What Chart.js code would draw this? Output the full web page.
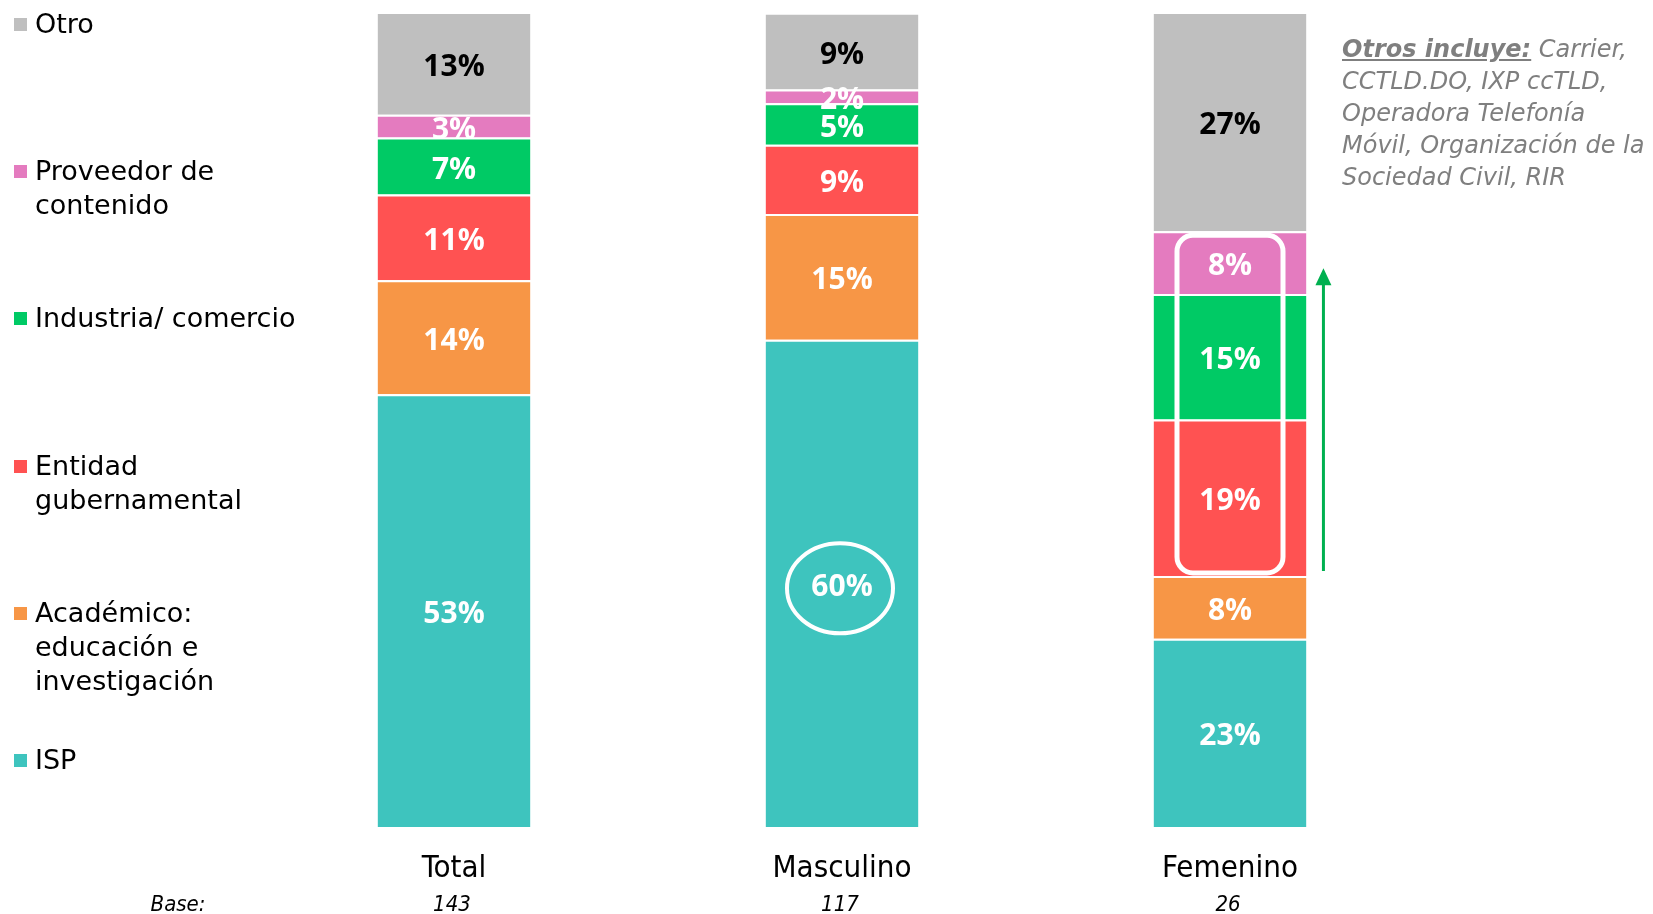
<!DOCTYPE html>
<html lang="es">
<head>
<meta charset="utf-8">
<title>Tipo de organización por género</title>
<script src="https://cdn.jsdelivr.net/npm/chart.js@4.4.1/dist/chart.umd.min.js"></script>
<style>
  html, body { margin: 0; padding: 0; background: #fff; }
  #wrap { position: relative; width: 1653px; height: 914px; overflow: hidden; }
  #chart { position: absolute; left: 0; top: 0; }
  .leg { position: absolute; left: 35px; font-family: "DejaVu Sans", sans-serif;
         font-size: 27px; line-height: 34px; color: #000; white-space: pre-line; }
  .leg i { position: absolute; left: -21px; top: 11px; width: 13px; height: 13px; }
  #nota { position: absolute; left: 1342px; top: 33px; font-family: "DejaVu Sans", sans-serif;
          font-style: italic; font-size: 24px; line-height: 32px; color: #7f7f7f; white-space: nowrap; }
  #nota b { text-decoration: underline; }
</style>
</head>
<body>
<div id="wrap">
  <canvas id="chart" width="1653" height="914"></canvas>
  <div id="legend"></div>
  <div id="nota"><b>Otros incluye:</b> Carrier,<br>CCTLD.DO, IXP ccTLD,<br>Operadora Telefonía<br>Móvil, Organización de la<br>Sociedad Civil, RIR</div>
</div>
<script>
// categories and bases (n)
const categories = ['Total', 'Masculino', 'Femenino'];
const bases = [143, 117, 26];

// series, bottom to top (% of each group)
const seriesNames = ['ISP', 'Académico:\neducación e\ninvestigación', 'Entidad\ngubernamental', 'Industria/ comercio', 'Proveedor de\ncontenido', 'Otro'];
const isp = [53.1, 59.8, 23.1];
const academico = [14.0, 15.4, 7.7];
const entidad = [10.5, 8.5, 19.2];
const industria = [7.0, 5.1, 15.4];
const proveedor = [2.8, 1.7, 7.7];
const otro = [12.6, 9.4, 26.9];

const colors = ['#3ec4be', '#f79646', '#ff5252', '#00ca65', '#e47bbf', '#bfbfbf'];
const labelColors = ['#fff', '#fff', '#fff', '#fff', '#fff', '#000'];

const allSeries = [isp, academico, entidad, industria, proveedor, otro];

// legend, top to bottom
const legendEl = document.getElementById('legend');
for (let i = seriesNames.length - 1, k = 0; i >= 0; i--, k++) {
    const d = document.createElement('div');
    d.className = 'leg';
    d.style.top = (7 + k * 147.2) + 'px';
    d.innerHTML = '<i style="background:' + colors[i] + '"></i>';
    d.appendChild(document.createTextNode(seriesNames[i]));
    legendEl.appendChild(d);
}

const extras = {
    id: 'extras',
    afterDatasetsDraw(chart) {
        const ctx = chart.ctx;
        ctx.save();
        // segment labels
        ctx.textAlign = 'center';
        ctx.textBaseline = 'middle';
        ctx.font = 'bold 30px "Open Sans", sans-serif';
        chart.data.datasets.forEach((ds, di) => {
            chart.getDatasetMeta(di).data.forEach((bar, i) => {
                ctx.fillStyle = labelColors[di];
                ctx.fillText(Math.round(ds.data[i]) + '%', bar.x, (bar.y + bar.base) / 2 + 4);
            });
        });

        // ellipse around Masculino ISP
        const m = chart.getDatasetMeta(0).data[1];
        ctx.strokeStyle = '#fff';
        ctx.lineWidth = 4;
        ctx.beginPath();
        ctx.ellipse(m.x - 2, (m.y + m.base) / 2 + 5, 53, 45, 0, 0, Math.PI * 2);
        ctx.stroke();

        // rounded box around Femenino Entidad..Proveedor
        const top = chart.getDatasetMeta(4).data[2];
        const bot = chart.getDatasetMeta(2).data[2];
        const x0 = top.x - 53, x1 = top.x + 53;
        const y0 = top.y + 4, y1 = bot.base - 3;
        ctx.lineWidth = 5;
        ctx.beginPath();
        ctx.roundRect(x0, y0, x1 - x0, y1 - y0, 16);
        ctx.stroke();

        // green arrow
        const ax = top.x + top.width / 2 + 17;
        ctx.strokeStyle = '#00b050';
        ctx.fillStyle = '#00b050';
        ctx.lineWidth = 3;
        ctx.beginPath();
        ctx.moveTo(ax, bot.base - 5);
        ctx.lineTo(ax, top.y + 50);
        ctx.stroke();
        ctx.beginPath();
        ctx.moveTo(ax, top.y + 37);
        ctx.lineTo(ax - 8, top.y + 54);
        ctx.lineTo(ax + 8, top.y + 54);
        ctx.closePath();
        ctx.fill();

        // base row
        ctx.fillStyle = '#000';
        ctx.font = 'italic 22px "DejaVu Sans Condensed", "DejaVu Sans", sans-serif';
        ctx.fillText('Base:', 178, 905);
        const xs = chart.scales.x;
        bases.forEach((b, i) => ctx.fillText(String(b), xs.getPixelForValue(i) - 2, 905));
        ctx.restore();
    }
};

new Chart(document.getElementById('chart'), {
    type: 'bar',
    data: {
        labels: categories,
        datasets: allSeries.map((data, i) => ({
            label: seriesNames[i].replace(/\n/g, ' '),
            data: data,
            backgroundColor: colors[i],
            borderColor: '#fff',
            borderWidth: { top: 2 },
            borderSkipped: false,
            categoryPercentage: 1,
            barPercentage: 0.394
        }))
    },
    options: {
        responsive: false,
        animation: false,
        layout: { padding: { left: 260, right: 229, top: 12, bottom: 0 } },
        plugins: { legend: { display: false }, tooltip: { enabled: false } },
        scales: {
            x: {
                stacked: true,
                grid: { display: false, drawTicks: false },
                border: { display: false },
                ticks: {
                    color: '#000',
                    padding: 23,
                    font: { family: '"DejaVu Sans Condensed", "DejaVu Sans", sans-serif', size: 31 }
                },
                afterFit(scale) { scale.height = 87; }
            },
            y: { stacked: true, display: false, min: 0, max: 100 }
        }
    },
    plugins: [extras]
});
</script>
</body>
</html>
